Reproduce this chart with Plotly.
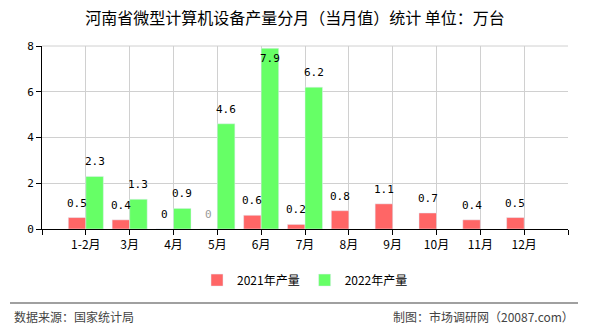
import plotly.graph_objects as go

categories = ["1-2月", "3月", "4月", "5月", "6月", "7月", "8月", "9月", "10月", "11月", "12月"]
values_2021 = [0.5, 0.4, 0, 0, 0.6, 0.2, 0.8, 1.1, 0.7, 0.4, 0.5]
values_2022 = [2.3, 1.3, 0.9, 4.6, 7.9, 6.2, None, None, None, None, None]
y_ticks = [0, 2, 4, 6, 8]

xpos = list(range(1, len(categories) + 1))
FONT = "Noto Sans CJK SC"
MONO = "DejaVu Sans Mono"
YMAX = 8
BW = 0.4

fig = go.Figure()
fig.add_trace(go.Bar(
    x=xpos, y=values_2021, name="2021年产量", marker_color="#ff6666",
    width=BW, offset=-BW,
))
fig.add_trace(go.Bar(
    x=xpos, y=values_2022, name="2022年产量", marker_color="#66ff66",
    width=BW, offset=0.0,
))

# value labels
for i, v in enumerate(values_2021):
    color = "#999999" if (v == 0 and i == 3) else "#000000"
    fig.add_annotation(x=xpos[i] - BW / 2, y=v, text=f"{v:g}", showarrow=False,
                       yanchor="bottom", yshift=6,
                       font=dict(family=MONO, size=11, color=color))
for i, v in enumerate(values_2022):
    if v is None:
        continue
    top = v > YMAX - 0.4
    fig.add_annotation(x=xpos[i] + BW / 2, y=v, text=f"{v:g}", showarrow=False,
                       yanchor="top" if top else "bottom", yshift=-2 if top else 6,
                       font=dict(family=MONO, size=11, color="#000000"))

fig.update_layout(
    width=590, height=330,
    margin=dict(l=42, r=22, t=46, b=101),
    paper_bgcolor="white", plot_bgcolor="white",
    barmode="overlay",
    title=dict(text="河南省微型计算机设备产量分月（当月值）统计 单位：万台",
               x=0.5, xanchor="center", y=0.945, yanchor="middle",
               font=dict(family=FONT, size=16, color="#000000")),
    showlegend=True,
    legend=dict(orientation="h", x=0.5, xanchor="center", y=-0.2, yanchor="top",
                font=dict(family=FONT, size=12, color="#000000"),
                itemwidth=30, tracegroupgap=0),
    font=dict(family=FONT),
)
fig.update_xaxes(
    range=[0, 12], tickmode="array", tickvals=list(range(0, 13)),
    ticktext=[""] + categories + [""],
    showgrid=True, gridcolor="#d0d0d0", gridwidth=1,
    showline=True, linecolor="#000000", linewidth=1,
    ticks="outside", ticklen=5, tickcolor="#000000",
    tickfont=dict(family=FONT, size=12, color="#000000"),
    zeroline=False, mirror=False,
)
fig.update_yaxes(
    range=[0, YMAX], tickvals=y_ticks,
    showgrid=True, gridcolor="#d0d0d0", gridwidth=1,
    showline=True, linecolor="#000000", linewidth=1,
    ticks="outside", ticklen=5, tickcolor="#000000",
    tickfont=dict(family=MONO, size=11, color="#000000"),
    zeroline=False,
)
# top border line of plot area
fig.add_shape(type="line", xref="paper", yref="paper", x0=0, x1=1, y0=1, y1=1,
              line=dict(color="#d0d0d0", width=1))
# footer separator
fig.add_shape(type="line", xref="paper", yref="paper", x0=-32/526, x1=(578-42)/526,
              y0=-(303-229)/183, y1=-(303-229)/183,
              line=dict(color="#808080", width=1.5))
fig.add_annotation(text="数据来源：国家统计局", xref="paper", yref="paper",
                   x=-30/526, xanchor="left", y=-(316-229)/183, yanchor="middle",
                   showarrow=False, font=dict(family=FONT, size=12, color="#444444"))
fig.add_annotation(text="制图：市场调研网（20087.com）", xref="paper", yref="paper",
                   x=(576-42)/526, xanchor="right", y=-(316-229)/183, yanchor="middle",
                   showarrow=False, font=dict(family=FONT, size=12, color="#444444"))

fig.write_html("out.html")
